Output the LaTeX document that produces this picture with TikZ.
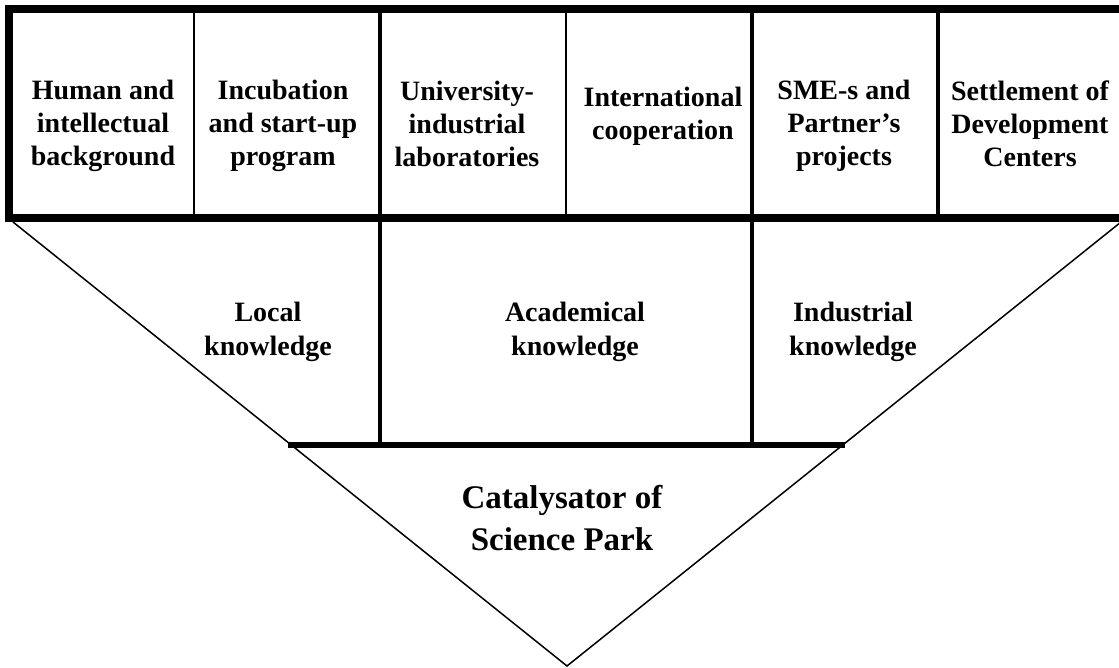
\documentclass[tikz,border=0pt]{standalone}
\usepackage{fontspec}
\setmainfont{Liberation Serif}
\usepackage{tikz}

\tikzset{
	pillar/.style={font=\fontsize{14}{16.5}\selectfont\bfseries, align=center},
	knowledge/.style={font=\fontsize{14}{17}\selectfont\bfseries, align=center},
	catalyst/.style={font=\fontsize{16.5}{21}\selectfont\bfseries, align=center},
	frame/.style={draw=black, line width=4pt},
	wall/.style={draw=black, line width=1.75pt},
	thinwall/.style={draw=black, line width=1.25pt},
	side/.style={draw=black, line width=0.75pt}
}

\begin{document}
\begin{tikzpicture}[x=0.5pt, y=-0.5pt]
	
	\useasboundingbox (0, 0) rectangle (1119, 668);
	\clip (0, 0) rectangle (1119, 668);
	
	\coordinate (tl) at (13, 222);
	\coordinate (tr) at (1121, 222);
	\coordinate (apex) at (567, 666);
	\coordinate (bl) at (288, 445);
	\coordinate (br) at (845, 445);
	\coordinate (ml) at (380, 218);
	\coordinate (mr) at (752, 218);
	\coordinate (mlb) at (380, 445);
	\coordinate (mrb) at (752, 445);
	
	\draw[side] (tl) -- (apex) -- (tr);
	\draw[wall] (ml) -- (mlb);
	\draw[wall] (mr) -- (mrb);
	\draw[line width=3.4pt] (bl) -- (br);
	
	\draw[thinwall] (194, 9) -- (194, 218);
	\draw[wall] (380, 9) -- (380, 218);
	\draw[thinwall] (566, 9) -- (566, 218);
	\draw[wall] (752, 9) -- (752, 218);
	\draw[wall] (938, 9) -- (938, 218);
	\draw[frame] (9, 9) rectangle (1124, 218);
	
	\node[pillar] (human) at (103, 126)     {Human and\\intellectual\\background};
	\node[pillar] (incub) at (283, 126)     {Incubation\\and start-up\\program};
	\node[pillar] (labs) at (467, 124)     {University-\\industrial\\laboratories};
	\node[pillar] (coop) at (663, 116)     {International\\cooperation};
	\node[pillar] (sme) at (844, 126)     {SME-s and\\Partner's\\projects};
	\node[pillar] (centers) at (1030, 124)     {Settlement of\\Development\\Centers};
	
	\node[knowledge] (local) at (268, 332)     {Local\\knowledge};
	\node[knowledge] (academ) at (575, 332)     {Academical\\knowledge};
	\node[knowledge] (indust) at (853, 332)     {Industrial\\knowledge};
	
	\node[catalyst] (park) at (562, 518)     {Catalysator of\\Science Park};
	
\end{tikzpicture}
\end{document}
